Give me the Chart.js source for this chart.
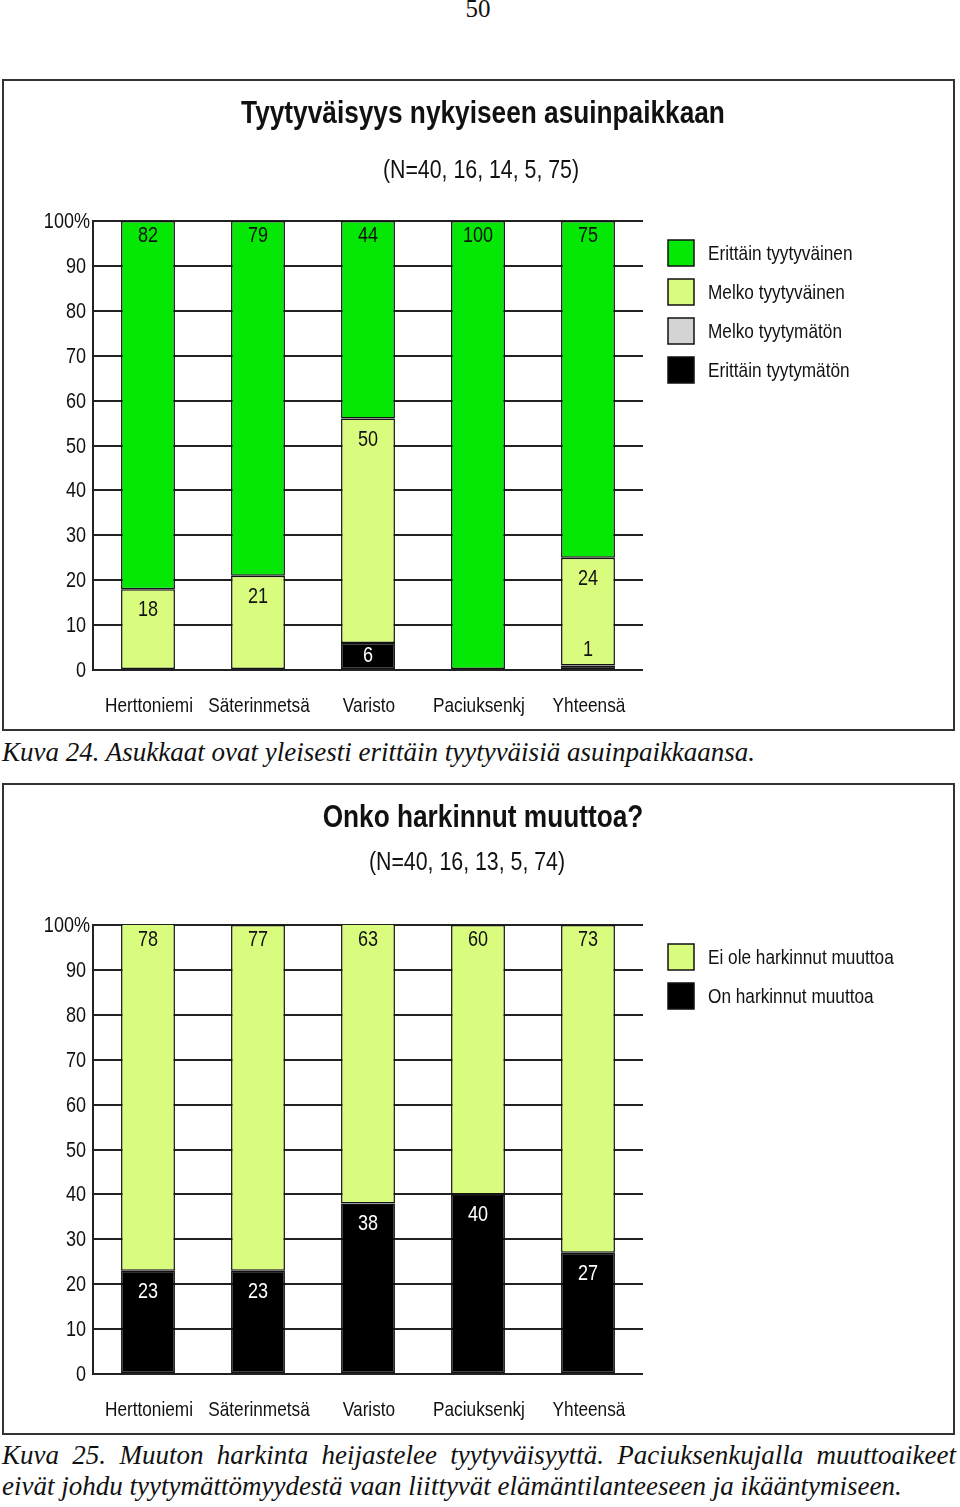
<!DOCTYPE html>
<html>
<head>
<meta charset="utf-8">
<script src="https://cdn.jsdelivr.net/npm/chart.js@4.4.1/dist/chart.umd.min.js"></script>
<style>
  body { margin:0; background:#fff; width:960px; height:1507px; position:relative; overflow:hidden; }
  .box { position:absolute; left:2px; width:949px; height:648px; border:2px solid #333; background:#fff; }
  .pagenum { position:absolute; left:0; width:956px; top:-5px; text-align:center; font:25px 'Liberation Serif', serif; color:#111; }
  .cap { position:absolute; left:2px; font:italic 27px 'Liberation Serif', serif; color:#111; white-space:nowrap; }
  .just { width:954px; text-align:justify; text-align-last:justify; white-space:normal; }
</style>
</head>
<body>
<div class="pagenum">50</div>
<div class="box" style="top:79px"><canvas id="c1" width="949" height="648"></canvas></div>
<div class="cap" style="top:737px">Kuva 24. Asukkaat ovat yleisesti erittäin tyytyväisiä asuinpaikkaansa.</div>
<div class="box" style="top:783px"><canvas id="c2" width="949" height="648"></canvas></div>
<div class="cap just" style="top:1440px">Kuva 25. Muuton harkinta heijastelee tyytyväisyyttä. Paciuksenkujalla muuttoaikeet</div>
<div class="cap" style="top:1471px">eivät johdu tyytymättömyydestä vaan liittyvät elämäntilanteeseen ja ikääntymiseen.</div>
<script>
"use strict";

// data
const categories = ['Herttoniemi', 'Säterinmetsä', 'Varisto', 'Paciuksenkj', 'Yhteensä'];

const erittainTyytyvainen = [82, 79, 44, 100, 75];
const melkoTyytyvainen = [18, 21, 50, 0, 24];
const melkoTyytymaton = [0, 0, 0, 0, 0];
const erittainTyytymaton = [0, 0, 6, 0, 1];

const eiHarkinnut = [78, 77, 63, 60, 73];
const onHarkinnut = [23, 23, 38, 40, 27];

const yTickValues = [0, 10, 20, 30, 40, 50, 60, 70, 80, 90, 100];

const GREEN = '#05e805', LIGHT = '#d9fc7e', GREY = '#d4d4d4', BLACK = '#000000';
const SANS = "'Liberation Sans', Arial, sans-serif";
const SQUEEZE = 0.82; // no narrow font installed, so squeeze Arial-like text

function narrow(ctx, text, x, y, font, align) {
  ctx.save();
  ctx.font = font;
  ctx.textAlign = align || 'center';
  ctx.textBaseline = 'middle';
  ctx.translate(x, y);
  ctx.scale(SQUEEZE, 1);
  ctx.fillText(text, 0, 0);
  ctx.restore();
}

// title, tick labels, legend and value labels drawn on the canvas
const decorPlugin = {
  id: 'decor',
  afterDraw(chart) {
    const ctx = chart.ctx;
    const o = chart.options.plugins.decor;
    const area = chart.chartArea;
    ctx.save();
    ctx.fillStyle = '#111';
    narrow(ctx, o.title, 479, 33, 'bold 32px ' + SANS);
    narrow(ctx, o.subtitle, o.subX, o.subY, '26px ' + SANS);

    // axis labels
    yTickValues.forEach(v => {
      const y = chart.scales.y.getPixelForValue(v) + 1;
      if (v === 100) narrow(ctx, '100%', 86, y, '22px ' + SANS, 'right');
      else narrow(ctx, String(v), 82, y, '22px ' + SANS, 'right');
    });
    categories.forEach((c, i) => {
      narrow(ctx, c, chart.scales.x.getPixelForValue(i) + 1, 625, '21px ' + SANS);
    });

    // value labels
    chart.data.datasets.forEach((ds, di) => {
      const meta = chart.getDatasetMeta(di);
      meta.data.forEach((bar, i) => {
        const v = ds.data[i];
        if (!v) return;
        const top = Math.max(bar.y, area.top);
        const h = bar.base - top;
        let y;
        if (top <= area.top + 1) y = top + 15;
        else if (h >= 40) y = top + 21;
        else if (h >= 20) y = top + h / 2;
        else y = top - 16;
        ctx.fillStyle = (ds.backgroundColor === BLACK && h >= 20) ? '#fff' : '#111';
        narrow(ctx, String(v), bar.x, y, '22px ' + SANS);
      });
    });

    // legend, top item = last dataset
    const items = chart.data.datasets.slice().reverse();
    items.forEach((ds, k) => {
      const cy = 172 + k * 39;
      ctx.fillStyle = ds.backgroundColor;
      ctx.fillRect(664, cy - 13, 26, 26);
      ctx.lineWidth = 1.5;
      ctx.strokeStyle = '#111';
      ctx.strokeRect(664, cy - 13, 26, 26);
      ctx.fillStyle = '#111';
      narrow(ctx, ds.label, 704, cy + 1, '21px ' + SANS, 'left');
    });
    ctx.restore();
  }
};

function makeChart(id, datasets, title, subtitle, subX, subY) {
  return new Chart(document.getElementById(id), {
    type: 'bar',
    data: {
      labels: categories,
      datasets: datasets.map(d => ({
        label: d.label,
        data: d.data,
        backgroundColor: d.color,
        borderColor: '#111',
        borderWidth: 1.5,
        borderSkipped: false,
        barPercentage: 0.49,
        categoryPercentage: 1
      }))
    },
    options: {
      responsive: false,
      animation: false,
      devicePixelRatio: 1,
      layout: { padding: { top: 140, right: 310, bottom: 0, left: 0 } },
      plugins: {
        legend: { display: false },
        tooltip: { enabled: false },
        decor: { title: title, subtitle: subtitle, subX: subX, subY: subY }
      },
      scales: {
        x: {
          stacked: true,
          grid: { display: false },
          border: { display: false },
          ticks: { display: false },
          afterFit(s) { s.height = 59; }
        },
        y: {
          stacked: true,
          min: 0,
          max: 100,
          afterBuildTicks(s) { s.ticks = yTickValues.map(v => ({ value: v })); },
          grid: { color: '#222', lineWidth: 2, drawTicks: false },
          border: { display: true, color: '#222', width: 2 },
          ticks: { display: false },
          afterFit(s) { s.width = 89; }
        }
      }
    },
    plugins: [decorPlugin]
  });
}

makeChart('c1', [
  { label: 'Erittäin tyytymätön', data: erittainTyytymaton, color: BLACK },
  { label: 'Melko tyytymätön', data: melkoTyytymaton, color: GREY },
  { label: 'Melko tyytyväinen', data: melkoTyytyvainen, color: LIGHT },
  { label: 'Erittäin tyytyväinen', data: erittainTyytyvainen, color: GREEN }
], 'Tyytyväisyys nykyiseen asuinpaikkaan', '(N=40, 16, 14, 5, 75)', 477, 90);

makeChart('c2', [
  { label: 'On harkinnut muuttoa', data: onHarkinnut, color: BLACK },
  { label: 'Ei ole harkinnut muuttoa', data: eiHarkinnut, color: LIGHT }
], 'Onko harkinnut muuttoa?', '(N=40, 16, 13, 5, 74)', 463, 78);
</script>
</body>
</html>
